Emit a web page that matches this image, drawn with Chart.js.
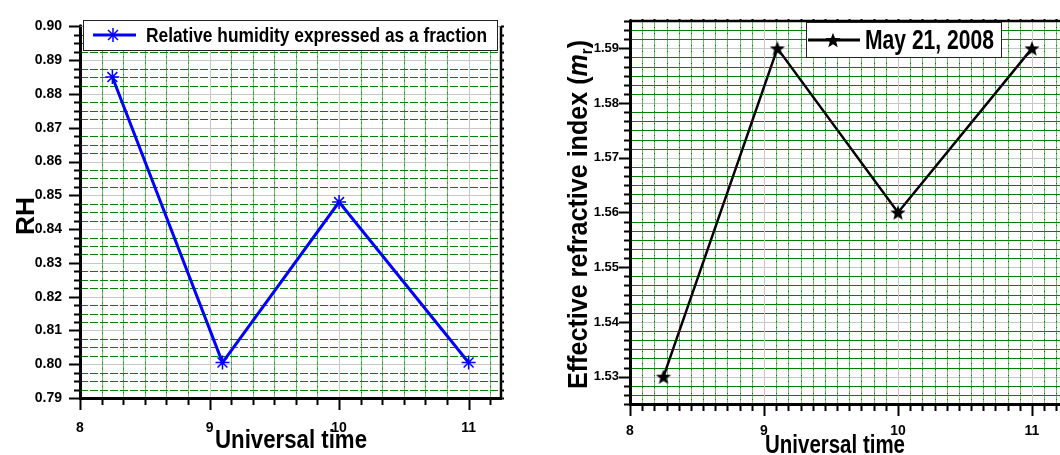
<!DOCTYPE html>
<html>
<head>
<meta charset="utf-8">
<script src="https://cdn.jsdelivr.net/npm/chart.js@4.4.1/dist/chart.umd.min.js"></script>
<style>
    html, body { margin: 0; padding: 0; background: #fff; width: 1060px; height: 455px; overflow: hidden; }
    #rhChart { position: absolute; left: 0; top: 0; }
    #mrChart { position: absolute; left: 530px; top: 0; }
</style>
</head>
<body>
<canvas id="rhChart" width="530" height="455"></canvas>
<canvas id="mrChart" width="560" height="455"></canvas>
<script>
// Measurements (hour of day, UT)
const timeHours = [8.25, 9.1, 10, 11];
const relHumidity = [0.885, 0.8005, 0.848, 0.8005];
const refIndex = [1.53, 1.59, 1.56, 1.59];

// Tick labels
const timeTicks = [8, 9, 10, 11];
const rhTicks = [0.79, 0.80, 0.81, 0.82, 0.83, 0.84, 0.85, 0.86, 0.87, 0.88, 0.89, 0.90];
const mrTicks = [1.53, 1.54, 1.55, 1.56, 1.57, 1.58, 1.59];

const rhLegend = 'Relative humidity expressed as a fraction';
const mrLegend = 'May 21, 2008';
const timeTitle = 'Universal time';

const FONT = "'Liberation Sans', Arial, sans-serif";
const GREEN_H = 'rgb(0, 128, 0)';
const GREEN_V = 'rgba(0, 150, 0, 0.6)';
const GREEN_DOT = 'rgb(0, 120, 0)';
const GRAY = '#c8c8c8';

// Filled five-pointed star, used as a point style
function starCanvas(r, color) {
    const s = Math.ceil(r * 2 + 2);
    const c = document.createElement('canvas');
    c.width = c.height = s;
    const g = c.getContext('2d');
    g.translate(s / 2, s / 2 + r * 0.1);
    g.beginPath();
    for (let i = 0; i < 10; i++) {
        const rad = i % 2 ? r * 0.42 : r;
        const a = -Math.PI / 2 + i * Math.PI / 5;
        g.lineTo(rad * Math.cos(a), rad * Math.sin(a));
    }
    g.closePath();
    g.fillStyle = color;
    g.fill();
    return c;
}
const starImg = starCanvas(8, '#000');

// Major + minor tick positions between lo and hi
function tickValues(lo, hi, origin, majorStep, parts) {
    const step = majorStep / parts;
    const out = [];
    for (let k = Math.ceil((lo - origin) / step - 1e-6); origin + k * step <= hi + 1e-9; k++) {
        out.push({ v: origin + k * step, major: ((k % parts) + parts) % parts === 0 });
    }
    return out;
}

// Draw a row of text runs squeezed to a given width (baseline at y)
function drawRuns(ctx, runs, x, y, width, angle) {
    ctx.save();
    let total = 0;
    runs.forEach(r => { ctx.font = r.font; r.w = ctx.measureText(r.text).width; total += r.w; });
    ctx.translate(x, y);
    ctx.rotate(angle || 0);
    ctx.scale(width / total, 1);
    ctx.fillStyle = '#000';
    ctx.textBaseline = 'alphabetic';
    ctx.textAlign = 'left';
    let cx = -total / 2;
    runs.forEach(r => { ctx.font = r.font; ctx.fillText(r.text, cx, r.dy || 0); cx += r.w; });
    ctx.restore();
}

// Graph-paper grid, tick marks and the top/right frame
const paperFrame = {
    id: 'paperFrame',
    beforeDraw(chart, args, o) {
        const { ctx, chartArea: a, scales: { x, y } } = chart;
        ctx.save();
        ctx.lineWidth = 1;
        tickValues(y.min, y.max, o.yOrigin, 0.01, o.yParts).forEach(t => {
            const py = Math.round(y.getPixelForValue(t.v)) + 0.5;
            if (py <= a.top + 1 || py >= a.bottom - 1) return;
            ctx.strokeStyle = t.major ? GRAY : GREEN_H;
            ctx.setLineDash(t.major ? [] : o.hDash);
            ctx.beginPath(); ctx.moveTo(a.left, py); ctx.lineTo(a.right, py); ctx.stroke();
        });
        tickValues(x.min, x.max, o.xOrigin, 1, o.xParts).forEach(t => {
            const px = Math.round(x.getPixelForValue(t.v)) + 0.5;
            if (px <= a.left + 1 || px >= a.right - 1) return;
            ctx.setLineDash([]);
            ctx.strokeStyle = t.major ? GRAY : GREEN_V;
            ctx.beginPath(); ctx.moveTo(px, a.top); ctx.lineTo(px, a.bottom); ctx.stroke();
            if (!t.major) {
                // darker dots along the minor verticals
                ctx.strokeStyle = GREEN_DOT;
                ctx.setLineDash([1, 5]);
                ctx.beginPath(); ctx.moveTo(px, a.top); ctx.lineTo(px, a.bottom); ctx.stroke();
            }
        });
        ctx.restore();
    },
    afterDraw(chart, args, o) {
        const { ctx, chartArea: a, scales: { x, y } } = chart;
        ctx.save();
        // top and right borders
        ctx.lineWidth = o.topWidth;
        ctx.strokeStyle = o.topColor;
        ctx.beginPath(); ctx.moveTo(a.left, a.top); ctx.lineTo(a.right, a.top); ctx.stroke();
        ctx.lineWidth = 2.5;
        ctx.strokeStyle = '#000';
        ctx.beginPath(); ctx.moveTo(a.right, a.top); ctx.lineTo(a.right, a.bottom + 1); ctx.stroke();

        ctx.lineWidth = 2;
        tickValues(x.min, x.max, o.xOrigin, 1, o.xParts).forEach(t => {
            const px = Math.round(x.getPixelForValue(t.v)) + 0.5;
            const len = t.major ? 12 : 7;
            ctx.beginPath(); ctx.moveTo(px, a.bottom); ctx.lineTo(px, a.bottom + len); ctx.stroke();
            ctx.beginPath(); ctx.moveTo(px, a.top); ctx.lineTo(px, a.top - 2); ctx.stroke();
        });
        tickValues(y.min, y.max, o.yOrigin, 0.01, o.yParts).forEach(t => {
            const py = Math.round(y.getPixelForValue(t.v)) + 0.5;
            const len = t.major ? 11 : 6;
            ctx.beginPath(); ctx.moveTo(a.left, py); ctx.lineTo(a.left - len, py); ctx.stroke();
            ctx.beginPath(); ctx.moveTo(a.right, py); ctx.lineTo(a.right + 3, py); ctx.stroke();
        });
        ctx.restore();
    }
};

// Axis titles and the in-plot legend box
const captions = {
    id: 'captions',
    afterDraw(chart, args, o) {
        const ctx = chart.ctx;
        o.texts.forEach(t => drawRuns(ctx, t.runs, t.x, t.y, t.width, t.angle));

        const L = o.legend;
        ctx.save();
        ctx.fillStyle = '#fff';
        ctx.fillRect(L.box[0], L.box[1], L.box[2], L.box[3]);
        ctx.strokeStyle = '#222';
        ctx.lineWidth = 1;
        ctx.strokeRect(L.box[0] + 0.5, L.box[1] + 0.5, L.box[2], L.box[3]);
        ctx.strokeStyle = L.color;
        ctx.lineWidth = L.lineWidth;
        ctx.beginPath(); ctx.moveTo(L.line[0], L.line[2]); ctx.lineTo(L.line[1], L.line[2]); ctx.stroke();
        if (L.marker === 'star') {
            ctx.drawImage(starImg, L.markerX - starImg.width / 2, L.line[2] - starImg.height / 2);
        } else {
            ctx.lineWidth = 1.5;
            for (let i = 0; i < 4; i++) {
                const ang = i * Math.PI / 4;
                const dx = Math.cos(ang) * 7, dy = Math.sin(ang) * 7;
                ctx.beginPath(); ctx.moveTo(L.markerX - dx, L.line[2] - dy); ctx.lineTo(L.markerX + dx, L.line[2] + dy); ctx.stroke();
            }
        }
        ctx.restore();
        drawRuns(ctx, L.runs, L.textX, L.baseline, L.textWidth, 0);
    }
};

function axisTicks(values) {
    return scale => { scale.ticks = values.map(v => ({ value: v })); };
}

// Relative humidity vs time
new Chart(document.getElementById('rhChart'), {
    type: 'line',
    data: {
        datasets: [{
            label: rhLegend,
            data: timeHours.map((t, i) => ({ x: t, y: relHumidity[i] })),
            borderColor: '#0000ff',
            backgroundColor: '#0000ff',
            borderWidth: 3,
            pointStyle: 'star',
            pointRadius: 7,
            pointBorderWidth: 1.5,
            tension: 0
        }]
    },
    options: {
        responsive: false,
        animation: false,
        layout: { padding: { top: 20, right: 29, left: 0, bottom: 0 } },
        scales: {
            x: {
                type: 'linear', min: 8, max: 11.25,
                afterBuildTicks: axisTicks(timeTicks),
                afterFit: s => { s.height = 57; },
                grid: { display: false, drawTicks: false },
                border: { display: true, color: '#000', width: 3 },
                ticks: {
                    color: '#000', padding: 22, maxRotation: 0, autoSkip: false,
                    font: { family: FONT, size: 14, weight: 'bold' },
                    callback: v => String(v)
                }
            },
            y: {
                type: 'linear', min: 0.79, max: 0.90,
                afterBuildTicks: axisTicks(rhTicks),
                afterFit: s => { s.width = 80; },
                grid: { display: false, drawTicks: false },
                border: { display: true, color: '#000', width: 3 },
                ticks: {
                    color: '#000', padding: 18, autoSkip: false,
                    font: { family: FONT, size: 14, weight: 'bold' },
                    callback: v => v.toFixed(2)
                }
            }
        },
        plugins: {
            legend: { display: false },
            tooltip: { enabled: false },
            paperFrame: { xOrigin: 8, xParts: 6, yOrigin: 0.79, yParts: 4, hDash: [8, 2], topColor: '#999', topWidth: 1 },
            captions: {
                texts: [
                    { runs: [{ text: timeTitle, font: 'bold 25px ' + FONT }], x: 291, y: 448, width: 152, angle: 0 },
                    { runs: [{ text: 'RH', font: 'bold 25px ' + FONT }], x: 34, y: 216, width: 38, angle: -Math.PI / 2 }
                ],
                legend: {
                    box: [83, 20, 414, 30], line: [93, 136, 35], color: '#0000ff', lineWidth: 3,
                    marker: 'asterisk', markerX: 113,
                    runs: [{ text: rhLegend, font: 'bold 21px ' + FONT }],
                    textX: 316.5, baseline: 42, textWidth: 341
                }
            }
        }
    },
    plugins: [paperFrame, captions]
});

// Effective refractive index vs time
new Chart(document.getElementById('mrChart'), {
    type: 'line',
    data: {
        datasets: [{
            label: mrLegend,
            data: timeHours.map((t, i) => ({ x: t, y: refIndex[i] })),
            borderColor: '#000',
            backgroundColor: '#000',
            borderWidth: 2.5,
            pointStyle: starImg,
            tension: 0
        }]
    },
    options: {
        responsive: false,
        animation: false,
        layout: { padding: { top: 21, right: 24.5, left: 0, bottom: 0 } },
        scales: {
            x: {
                type: 'linear', min: 8, max: 11.25,
                afterBuildTicks: axisTicks(timeTicks),
                afterFit: s => { s.height = 51; },
                grid: { display: false, drawTicks: false },
                border: { display: true, color: '#000', width: 3 },
                ticks: {
                    color: '#000', padding: 19, maxRotation: 0, autoSkip: false,
                    font: { family: FONT, size: 14, weight: 'bold' },
                    callback: v => String(v)
                }
            },
            y: {
                type: 'linear', min: 1.525, max: 1.595,
                afterBuildTicks: axisTicks(mrTicks),
                afterFit: s => { s.width = 100; },
                grid: { display: false, drawTicks: false },
                border: { display: true, color: '#000', width: 3 },
                ticks: {
                    color: '#000', padding: 11, autoSkip: false,
                    font: { family: FONT, size: 13, weight: 'bold' },
                    callback: v => v.toFixed(2)
                }
            }
        },
        plugins: {
            legend: { display: false },
            tooltip: { enabled: false },
            paperFrame: { xOrigin: 8, xParts: 11, yOrigin: 1.53, yParts: 6, hDash: [], topColor: '#000', topWidth: 2.5 },
            captions: {
                texts: [
                    { runs: [{ text: timeTitle, font: 'bold 25px ' + FONT }], x: 305, y: 453, width: 140, angle: 0 },
                    {
                        runs: [
                            { text: 'Effective refractive index (', font: 'bold 27px ' + FONT },
                            { text: 'm', font: 'italic bold 27px ' + FONT },
                            { text: 'r', font: 'bold 16px ' + FONT, dy: 5 },
                            { text: ')', font: 'bold 27px ' + FONT }
                        ],
                        x: 57, y: 214.5, width: 349, angle: -Math.PI / 2
                    }
                ],
                legend: {
                    box: [276, 22, 195, 35], line: [278, 330, 40], color: '#000', lineWidth: 3,
                    marker: 'star', markerX: 303,
                    runs: [{ text: mrLegend, font: 'bold 28px ' + FONT }],
                    textX: 399.5, baseline: 49, textWidth: 129
                }
            }
        }
    },
    plugins: [paperFrame, captions]
});
</script>
</body>
</html>
